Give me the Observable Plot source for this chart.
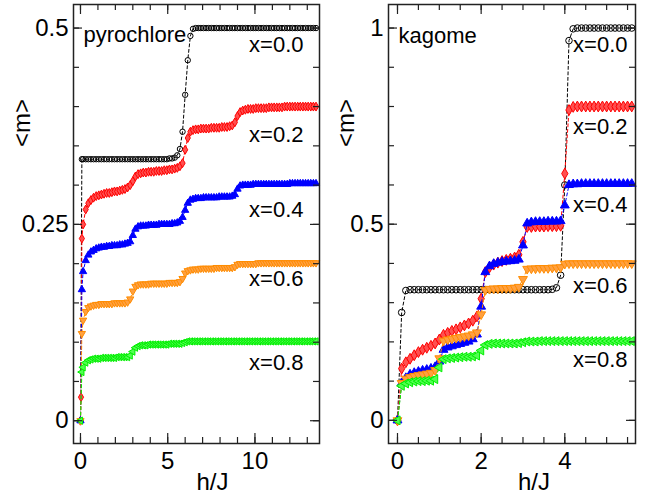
<!DOCTYPE html>
<html><head><meta charset="utf-8">
<script src="https://cdn.jsdelivr.net/npm/d3@7"></script>
<script src="https://cdn.jsdelivr.net/npm/@observablehq/plot@0.6"></script>
<style>
body{margin:0;background:#fff;}
#wrap{display:flex;width:657px;height:500px;}
#wrap svg{display:block;flex:none;}
</style></head><body><div id="wrap"></div>
<script>
// ---------- pyrochlore (left panel) ----------
const hPyro = [0, 0.03, 0.08, 0.15, 0.3, 0.45, 0.6, 0.75, 0.9, 1.05,
  1.2, 1.35, 1.5, 1.65, 1.8, 1.95, 2.1, 2.25, 2.4, 2.55,
  2.7, 2.85, 3.0, 3.15, 3.3, 3.45, 3.6, 3.75, 3.9, 4.05,
  4.2, 4.35, 4.5, 4.65, 4.8, 4.95, 5.1, 5.25, 5.4, 5.55,
  5.7, 5.85, 6.0, 6.15, 6.3, 6.45, 6.6, 6.75, 6.9, 7.05,
  7.2, 7.35, 7.5, 7.65, 7.8, 7.95, 8.1, 8.25, 8.4, 8.55,
  8.7, 8.85, 9.0, 9.15, 9.3, 9.45, 9.6, 9.75, 9.9, 10.05,
  10.2, 10.35, 10.5, 10.65, 10.8, 10.95, 11.1, 11.25, 11.4, 11.55,
  11.7, 11.85, 12.0, 12.15, 12.3, 12.45, 12.6, 12.75, 12.9, 13.05,
  13.2, 13.35, 13.5];
const pyroX00 = [0, null, 0.333, 0.333, 0.333, 0.333, 0.333, 0.333, 0.333, 0.333,
  0.333, 0.333, 0.333, 0.333, 0.333, 0.333, 0.333, 0.333, 0.333, 0.333,
  0.333, 0.333, 0.333, 0.333, 0.333, 0.333, 0.333, 0.333, 0.333, 0.333,
  0.333, 0.333, 0.333, 0.333, 0.333, 0.333, 0.334, 0.334, 0.335, 0.338,
  0.346, 0.368, 0.415, 0.459, 0.49, 0.499, 0.5, 0.5, 0.5, 0.5,
  0.5, 0.5, 0.5, 0.5, 0.5, 0.5, 0.5, 0.5, 0.5, 0.5,
  0.5, 0.5, 0.5, 0.5, 0.5, 0.5, 0.5, 0.5, 0.5, 0.5,
  0.5, 0.5, 0.5, 0.5, 0.5, 0.5, 0.5, 0.5, 0.5, 0.5,
  0.5, 0.5, 0.5, 0.5, 0.5, 0.5, 0.5, 0.5, 0.5, 0.5,
  0.5, 0.5, 0.5];
const pyroX02 = [0, 0.03, 0.232, 0.25, 0.269, 0.277, 0.281, 0.284, 0.286, 0.287,
  0.288, 0.289, 0.29, 0.29, 0.291, 0.292, 0.292, 0.293, 0.294, 0.295,
  0.297, 0.3, 0.305, 0.311, 0.314, 0.315, 0.316, 0.316, 0.317, 0.317,
  0.317, 0.318, 0.318, 0.318, 0.319, 0.319, 0.32, 0.32, 0.321, 0.322,
  0.324, 0.328, 0.345, 0.36, 0.368, 0.37, 0.371, 0.371, 0.372, 0.372,
  0.372, 0.372, 0.373, 0.373, 0.373, 0.373, 0.374, 0.374, 0.374, 0.375,
  0.376, 0.38, 0.388, 0.393, 0.395, 0.396, 0.397, 0.397, 0.397, 0.398,
  0.398, 0.398, 0.398, 0.398, 0.399, 0.399, 0.399, 0.399, 0.399, 0.399,
  0.4, 0.4, 0.4, 0.4, 0.4, 0.4, 0.4, 0.4, 0.4, 0.4,
  0.4, 0.4, 0.4];
const pyroX04 = [0, null, 0.167, 0.19, 0.204, 0.211, 0.215, 0.217, 0.219, 0.22,
  0.221, 0.221, 0.222, 0.222, 0.223, 0.223, 0.223, 0.224, 0.224, 0.225,
  0.226, 0.228, 0.236, 0.244, 0.247, 0.248, 0.248, 0.248, 0.249, 0.249,
  0.249, 0.249, 0.25, 0.25, 0.25, 0.25, 0.25, 0.251, 0.251, 0.252,
  0.254, 0.259, 0.268, 0.277, 0.281, 0.282, 0.283, 0.283, 0.283, 0.284,
  0.284, 0.284, 0.284, 0.284, 0.284, 0.285, 0.285, 0.285, 0.285, 0.285,
  0.286, 0.288, 0.295, 0.299, 0.3, 0.3, 0.3, 0.3, 0.301, 0.301,
  0.301, 0.301, 0.301, 0.301, 0.301, 0.301, 0.301, 0.301, 0.301, 0.301,
  0.301, 0.301, 0.302, 0.302, 0.302, 0.302, 0.302, 0.302, 0.302, 0.302,
  0.302, 0.302, 0.302];
const pyroX06 = [0, null, 0.111, 0.128, 0.139, 0.144, 0.146, 0.147, 0.148, 0.148,
  0.149, 0.149, 0.149, 0.149, 0.149, 0.15, 0.15, 0.15, 0.15, 0.15,
  0.151, 0.155, 0.165, 0.171, 0.173, 0.174, 0.174, 0.174, 0.174, 0.175,
  0.175, 0.175, 0.175, 0.175, 0.175, 0.175, 0.176, 0.176, 0.176, 0.176,
  0.177, 0.181, 0.188, 0.191, 0.192, 0.193, 0.193, 0.193, 0.194, 0.194,
  0.194, 0.194, 0.194, 0.194, 0.195, 0.195, 0.195, 0.195, 0.195, 0.195,
  0.195, 0.196, 0.199, 0.2, 0.2, 0.2, 0.2, 0.2, 0.2, 0.2,
  0.201, 0.201, 0.201, 0.201, 0.201, 0.201, 0.201, 0.201, 0.201, 0.201,
  0.201, 0.201, 0.201, 0.201, 0.201, 0.201, 0.201, 0.201, 0.201, 0.201,
  0.201, 0.201, 0.201];
const pyroX08 = [0, null, 0.062, 0.068, 0.074, 0.077, 0.078, 0.079, 0.079, 0.079,
  0.08, 0.08, 0.08, 0.08, 0.08, 0.08, 0.081, 0.081, 0.081, 0.081,
  0.081, 0.083, 0.088, 0.093, 0.095, 0.096, 0.096, 0.096, 0.097, 0.097,
  0.097, 0.097, 0.097, 0.097, 0.097, 0.097, 0.098, 0.098, 0.098, 0.098,
  0.098, 0.099, 0.1, 0.101, 0.101, 0.101, 0.101, 0.101, 0.101, 0.101,
  0.101, 0.101, 0.101, 0.101, 0.101, 0.101, 0.101, 0.101, 0.101, 0.101,
  0.101, 0.101, 0.101, 0.101, 0.101, 0.101, 0.101, 0.101, 0.101, 0.101,
  0.101, 0.101, 0.101, 0.101, 0.101, 0.101, 0.101, 0.101, 0.101, 0.101,
  0.101, 0.101, 0.101, 0.101, 0.101, 0.101, 0.101, 0.101, 0.101, 0.101,
  0.101, 0.101, 0.101];

// ---------- kagome (right panel) ----------
const hKag = [0, 0.1, 0.2, 0.3, 0.4, 0.5, 0.6, 0.7, 0.8, 0.9,
  1.0, 1.1, 1.2, 1.3, 1.4, 1.5, 1.6, 1.7, 1.8, 1.9,
  2.0, 2.1, 2.2, 2.3, 2.4, 2.5, 2.6, 2.7, 2.8, 2.9,
  3.0, 3.1, 3.2, 3.3, 3.4, 3.5, 3.6, 3.7, 3.8, 3.9,
  4.0, 4.1, 4.2, 4.3, 4.4, 4.5, 4.6, 4.7, 4.8, 4.9,
  5.0, 5.1, 5.2, 5.3, 5.4, 5.5, 5.6];
const kagX00 = [0, 0.275, 0.331, 0.333, 0.333, 0.333, 0.333, 0.333, 0.333, 0.333,
  0.333, 0.333, 0.333, 0.333, 0.333, 0.333, 0.333, 0.333, 0.333, 0.333,
  0.333, 0.333, 0.333, 0.333, 0.333, 0.333, 0.333, 0.333, 0.333, 0.333,
  0.333, 0.333, 0.333, 0.333, 0.333, 0.333, 0.333, 0.334, 0.338, 0.37,
  0.6, 0.968, 0.998, 1, 1, 1, 1, 1, 1, 1,
  1, 1, 1, 1, 1, 1, 1];
const kagX02 = [0, 0.132, 0.148, 0.157, 0.166, 0.174, 0.18, 0.185, 0.19, 0.196,
  0.206, 0.218, 0.223, 0.228, 0.232, 0.237, 0.242, 0.247, 0.254, 0.265,
  0.31, 0.378, 0.39, 0.397, 0.402, 0.406, 0.409, 0.412, 0.415, 0.422,
  0.455, 0.493, 0.493, 0.494, 0.494, 0.494, 0.495, 0.495, 0.495, 0.496,
  0.629, 0.791, 0.799, 0.8, 0.8, 0.8, 0.8, 0.8, 0.8, 0.8,
  0.8, 0.8, 0.8, 0.8, 0.8, 0.8, 0.8];
const kagX04 = [0, 0.095, 0.108, 0.117, 0.121, 0.124, 0.127, 0.129, 0.132, 0.136,
  0.15, 0.18, 0.186, 0.189, 0.192, 0.195, 0.198, 0.201, 0.207, 0.219,
  0.29, 0.378, 0.393, 0.399, 0.402, 0.404, 0.405, 0.406, 0.407, 0.41,
  0.446, 0.502, 0.505, 0.506, 0.506, 0.506, 0.507, 0.507, 0.507, 0.508,
  0.548, 0.6, 0.602, 0.602, 0.603, 0.603, 0.603, 0.603, 0.603, 0.603,
  0.603, 0.603, 0.603, 0.603, 0.603, 0.603, 0.603];
const kagX06 = [0, 0.095, 0.106, 0.11, 0.113, 0.115, 0.117, 0.119, 0.121, 0.128,
  0.158, 0.203, 0.206, 0.208, 0.21, 0.212, 0.214, 0.216, 0.219, 0.224,
  0.27, 0.332, 0.335, 0.336, 0.336, 0.337, 0.337, 0.337, 0.338, 0.34,
  0.36, 0.386, 0.387, 0.387, 0.388, 0.388, 0.388, 0.389, 0.389, 0.39,
  0.399, 0.4, 0.4, 0.4, 0.4, 0.4, 0.4, 0.4, 0.4, 0.4,
  0.4, 0.4, 0.4, 0.4, 0.4, 0.4, 0.4];
const kagX08 = [0, 0.088, 0.094, 0.097, 0.099, 0.1, 0.1, 0.101, 0.101, 0.105,
  0.135, 0.156, 0.158, 0.159, 0.16, 0.161, 0.162, 0.162, 0.163, 0.165,
  0.178, 0.192, 0.195, 0.196, 0.196, 0.196, 0.196, 0.196, 0.196, 0.197,
  0.199, 0.201, 0.201, 0.201, 0.202, 0.202, 0.202, 0.202, 0.202, 0.202,
  0.202, 0.202, 0.202, 0.202, 0.202, 0.202, 0.202, 0.202, 0.202, 0.202,
  0.202, 0.202, 0.202, 0.202, 0.202, 0.202, 0.202];

// ---------- labels and ticks ----------
const seriesNames = ["x=0.0", "x=0.2", "x=0.4", "x=0.6", "x=0.8"];
const pyroLabelY = [0.478, 0.3635, 0.268, 0.180, 0.074];
const kagLabelY = [0.957, 0.748, 0.548, 0.343, 0.153];
const pyroXMajor = [0, 5, 10];
const pyroXMinor = [0,1,2,3,4,5,6,7,8,9,10,11,12,13];
const pyroYMajor = [0, 0.25, 0.5];
const pyroYMinor = [0,0.05,0.1,0.15,0.2,0.25,0.3,0.35,0.4,0.45,0.5];
const kagXMajor = [0, 2, 4];
const kagXMinor = [0,0.5,1,1.5,2,2.5,3,3.5,4,4.5,5,5.5];
const kagYMajor = [0, 0.5, 1];
const kagYMinor = [0,0.1,0.2,0.3,0.4,0.5,0.6,0.7,0.8,0.9,1];

const colors = ["#000000", "#ff0000", "#0000ff", "#ff8c00", "#00ee00"];
const symbolStyles = [
  {symbol: "circle", fill: "none", rotate: 0},
  {symbol: "diamond", fill: "#ff5050", rotate: 0},
  {symbol: "triangle", fill: "#0000ff", rotate: 0},
  {symbol: "triangle", fill: "#ffa040", rotate: 180},
  {symbol: "triangle", fill: "#50ff50", rotate: -90}
];

function toRows(h, ys) {
  const out = [];
  for (let i = 0; i < h.length; i++) if (ys[i] != null) out.push({h: h[i], m: ys[i]});
  return out;
}

function panel(o) {
  const H = 500, mt = 4, mb = 57;
  const fw = o.width - o.marginLeft - o.marginRight;
  const fh = H - mt - mb;
  const tickColor = "#222";
  const marks = [];
  o.series.forEach((ys, k) => {
    const rows = toRows(o.h, ys);
    marks.push(Plot.line(rows, {x: "h", y: "m", stroke: colors[k], strokeWidth: 1, strokeDasharray: "3,2.5"}));
    const s = symbolStyles[k];
    marks.push(Plot.dot(rows, {x: "h", y: "m", r: o.r, symbol: s.symbol, rotate: s.rotate,
      stroke: colors[k], fill: s.fill, strokeWidth: 1}));
  });
  marks.push(
    // inward ticks on all four sides
    Plot.tickY(o.yMinor, {y: d => d, insetRight: fw - 6, stroke: tickColor, strokeWidth: 1.2}),
    Plot.tickY(o.yMinor, {y: d => d, insetLeft: fw - 6, stroke: tickColor, strokeWidth: 1.2}),
    Plot.tickY(o.yMajor, {y: d => d, insetRight: fw - 9, stroke: tickColor, strokeWidth: 1.2}),
    Plot.tickY(o.yMajor, {y: d => d, insetLeft: fw - 9, stroke: tickColor, strokeWidth: 1.2}),
    Plot.tickX(o.xMinor, {x: d => d, insetTop: fh - 6, stroke: tickColor, strokeWidth: 1.2}),
    Plot.tickX(o.xMinor, {x: d => d, insetBottom: fh - 6, stroke: tickColor, strokeWidth: 1.2}),
    Plot.tickX(o.xMajor, {x: d => d, insetTop: fh - 10, stroke: tickColor, strokeWidth: 1.2}),
    Plot.tickX(o.xMajor, {x: d => d, insetBottom: fh - 10, stroke: tickColor, strokeWidth: 1.2}),
    Plot.frame({stroke: tickColor, strokeWidth: 1.5}),
    Plot.axisY(o.yMajor, {tickSize: 0, tickPadding: 5, tickFormat: d => String(d), label: null, fontSize: 24}),
    Plot.axisX(o.xMajor, {tickSize: 0, tickPadding: 8, tickFormat: d => String(d), label: null, fontSize: 24}),
    Plot.text(seriesNames, {y: o.labelY, text: d => d, frameAnchor: "right", dx: -o.labelDx, textAnchor: "end"}),
    Plot.text([o.title], {text: d => d, frameAnchor: "top-left", dx: 10, dy: o.titleDy, lineAnchor: "top", textAnchor: "start"}),
    Plot.text(["<m>"], {text: d => d, frameAnchor: "left", dx: o.yLabelDx, dy: -77, rotate: -90, fontSize: 24}),
    Plot.text(["h/J"], {text: d => d, frameAnchor: "bottom", dx: o.xLabelDx, dy: 46, fontSize: 24})
  );
  return Plot.plot({
    width: o.width, height: H,
    marginLeft: o.marginLeft, marginRight: o.marginRight, marginTop: mt, marginBottom: mb,
    x: {domain: o.xDomain},
    y: {domain: o.yDomain},
    style: {fontFamily: "'Liberation Sans', Arial, sans-serif", fontSize: "22px", color: "#000", background: "#fff"},
    marks
  });
}

const left = panel({
  width: 330, marginLeft: 73, marginRight: 11,
  xDomain: [-0.4, 13.7], yDomain: [-0.029, 0.53],
  h: hPyro, series: [pyroX00, pyroX02, pyroX04, pyroX06, pyroX08],
  xMajor: pyroXMajor, xMinor: pyroXMinor, yMajor: pyroYMajor, yMinor: pyroYMinor,
  labelY: pyroLabelY, labelDx: 16, title: "pyrochlore", titleDy: 22,
  yLabelDx: -51, xLabelDx: 16, r: 2.7
});
const right = panel({
  width: 327, marginLeft: 58, marginRight: 22,
  xDomain: [-0.215, 5.69], yDomain: [-0.059, 1.06],
  h: hKag, series: [kagX00, kagX02, kagX04, kagX06, kagX08],
  xMajor: kagXMajor, xMinor: kagXMinor, yMajor: kagYMajor, yMinor: kagYMinor,
  labelY: kagLabelY, labelDx: 8, title: "kagome", titleDy: 23,
  yLabelDx: -42, xLabelDx: 22, r: 3.3
});
const wrap = document.getElementById("wrap");
wrap.appendChild(left);
wrap.appendChild(right);
</script></body></html>
